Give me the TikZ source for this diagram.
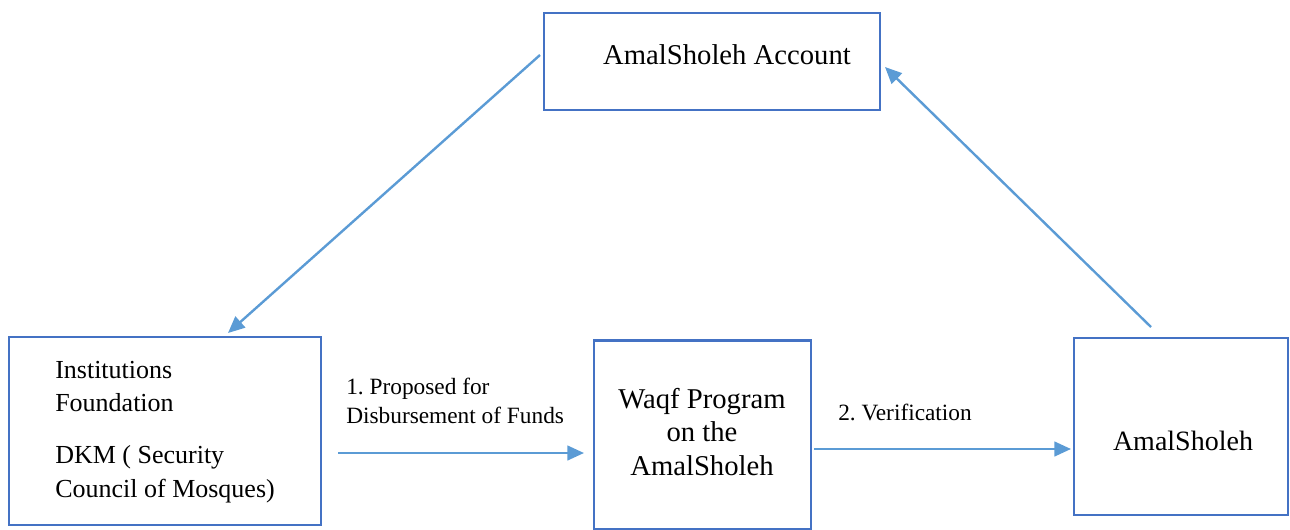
\documentclass[tikz,border=0pt]{standalone}
\usepackage{fontspec}
\setmainfont{Liberation Serif}
\usetikzlibrary{arrows.meta,calc}
\definecolor{boxblue}{HTML}{4472C4}
\definecolor{arrblue}{HTML}{5B9BD5}
\begin{document}
\frenchspacing
\begin{tikzpicture}[x=0.75pt,y=-0.75pt,
  boxst/.style={draw=boxblue,line width=2.2pt,inner sep=0pt},
  txt/.style={inner sep=0pt,font=\fontsize{19.5}{25}\selectfont,align=center},
  lbl/.style={inner sep=0pt,font=\fontsize{17.5}{22}\selectfont,align=left,anchor=west},
  conn/.style={draw=arrblue,line width=1.8pt,-{Triangle[length=12.5pt,width=11pt]}}]
\useasboundingbox (0,0) rectangle (1290,529);
% boxes
\node[boxst,minimum width=252pt,minimum height=72.75pt] (acc) at (712,61.5) {};
\node[boxst,minimum width=234pt,minimum height=141pt] (inst) at (165,431) {};
\node[boxst,minimum width=162.75pt,minimum height=142pt] (waqf) at (702.5,435) {};
\node[boxst,minimum width=160.5pt,minimum height=132.75pt] (amal) at (1181,426.5) {};
% texts
\node[txt,font=\fontsize{21.5}{25}\selectfont] (acct) at (727,55) {AmalSholeh Account};
\node[txt,align=left,anchor=north west] (instt) at (55,361) {Institutions\\Foundation\\[14pt]DKM ( Security\\Council of Mosques)};
\node[txt,font=\fontsize{21.5}{25}\selectfont] (waqft) at (702,432) {Waqf Program\\on the\\AmalSholeh};
\node[txt,font=\fontsize{21}{25}\selectfont] (amalt) at (1183,441) {AmalSholeh};
% connectors
\coordinate (a1s) at (540,55);
\coordinate (a1e) at (228,333);
\draw[conn] (a1s) -- (a1e);
\coordinate (a2s) at (1151,327);
\coordinate (a2e) at (885,67);
\draw[conn] (a2s) -- (a2e);
\coordinate (a3s) at (338,453);
\coordinate (a3e) at (584,453);
\draw[conn] (a3s) -- (a3e);
\coordinate (a4s) at (814,449);
\coordinate (a4e) at (1071,449);
\draw[conn] (a4s) -- (a4e);
% labels
\node[lbl] (l1) at (346,401) {1. Proposed for\\Disbursement of Funds};
\node[lbl] (l2) at (838,412) {2. Verification};
\end{tikzpicture}
\end{document}
